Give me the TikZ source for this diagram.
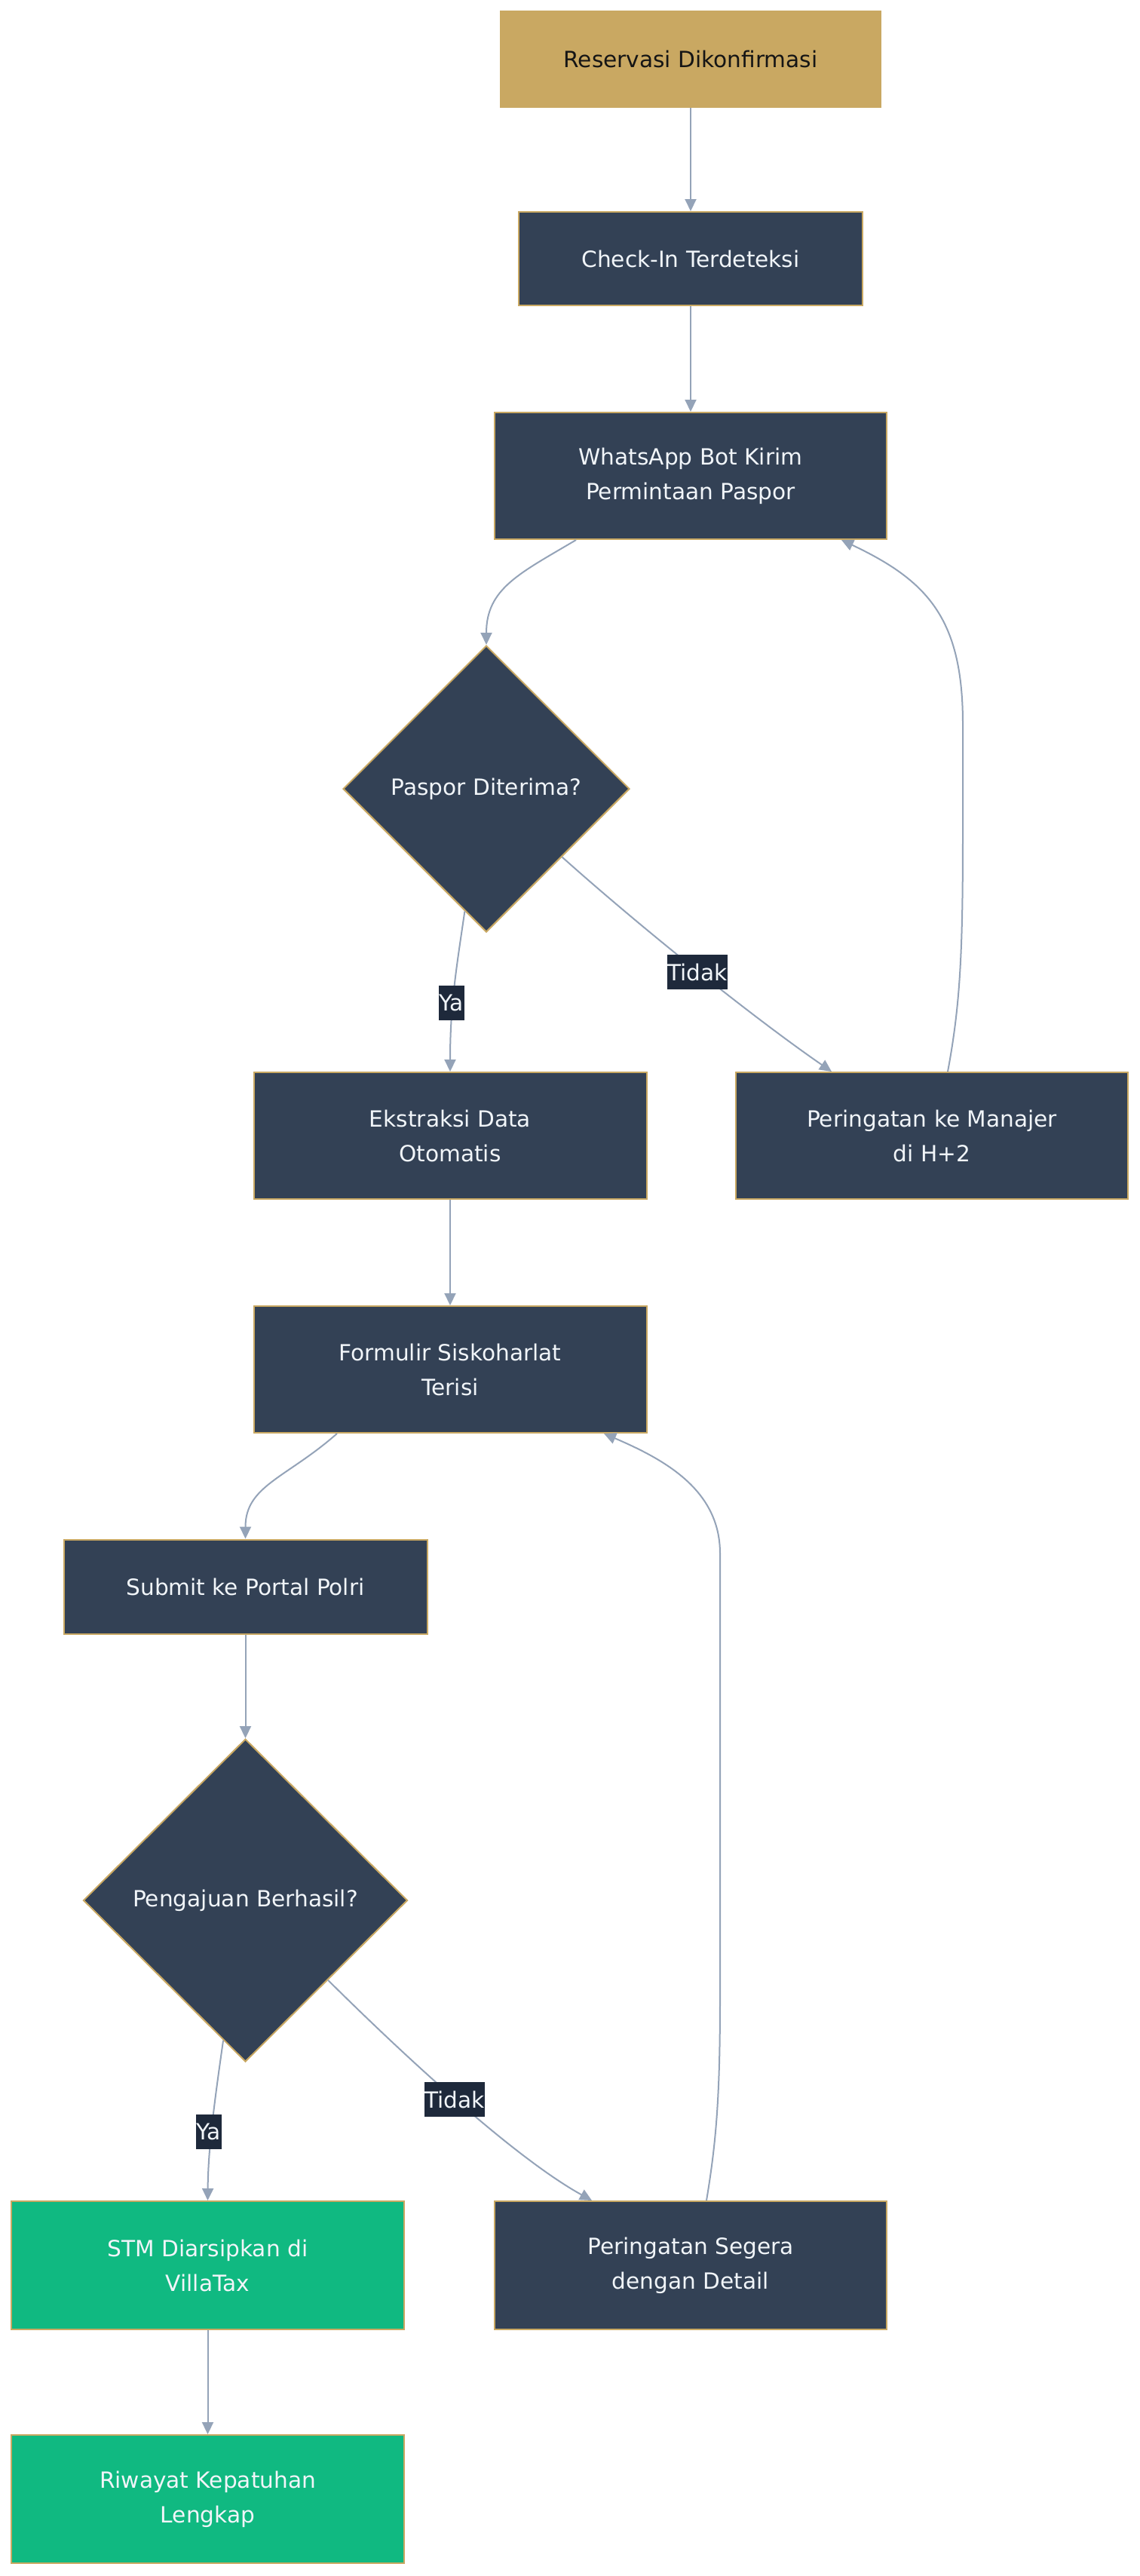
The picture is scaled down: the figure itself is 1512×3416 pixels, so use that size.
\documentclass[tikz,border=0pt]{standalone}
\usepackage{fontspec}
\setmainfont{DejaVu Sans}
\usetikzlibrary{arrows.meta,shapes.geometric}
\definecolor{gold}{HTML}{C9A862}
\definecolor{slate}{HTML}{334155}
\definecolor{emer}{HTML}{10B981}
\definecolor{lblbg}{HTML}{1E293B}
\definecolor{edgec}{HTML}{94A3B8}
\definecolor{txtw}{HTML}{F1F5F9}
\definecolor{txtd}{HTML}{151515}
\begin{document}
\begin{tikzpicture}[x=1pt,y=-1pt,
  nfont/.style={font=\fontsize{29.6}{46}\selectfont},
  box/.style={rectangle, draw=gold, line width=2pt, fill=slate, text=txtw, nfont, align=center, inner sep=0pt},
  greenbox/.style={box, fill=emer},
  goldbox/.style={box, fill=gold, text=txtd},
  dec/.style={diamond, aspect=1, draw=gold, line width=2pt, fill=slate, text=txtw, nfont, inner sep=0pt},
  lbl/.style={rectangle, fill=lblbg, text=txtw, nfont, inner xsep=0.5pt, inner ysep=0pt, minimum height=46pt},
  conn/.style={draw=edgec, line width=2pt, -{Triangle[length=16pt,width=15pt]}}
]
\fill[white] (0,0) rectangle (1512,3416);
\useasboundingbox (0,0) rectangle (1512,3416);

% nodes
\node[goldbox, minimum width=504pt, minimum height=127pt] (res) at (916,78.5) {Reservasi Dikonfirmasi};
\node[box, minimum width=456pt, minimum height=124pt] (chk) at (916,343) {Check-In Terdeteksi};
\node[box, minimum width=520pt, minimum height=168pt] (wa) at (916,631) {WhatsApp Bot Kirim\\Permintaan Paspor};
\node[dec, minimum width=380pt, minimum height=380pt] (d1) at (645,1046) {Paspor Diterima?};
\node[box, minimum width=521pt, minimum height=168pt] (ext) at (597,1506) {Ekstraksi Data\\Otomatis};
\node[box, minimum width=520pt, minimum height=168pt] (pm) at (1236,1506) {Peringatan ke Manajer\\di H+2};
\node[box, minimum width=521pt, minimum height=168pt] (frm) at (597,1816) {Formulir Siskoharlat\\Terisi};
\node[box, minimum width=482pt, minimum height=125pt] (sub) at (325.5,2104) {Submit ke Portal Polri};
\node[dec, minimum width=430pt, minimum height=428pt] (d2) at (325.5,2520) {Pengajuan Berhasil?};
\node[greenbox, minimum width=521pt, minimum height=170pt] (stm) at (275.5,3004) {STM Diarsipkan di\\VillaTax};
\node[box, minimum width=520pt, minimum height=170pt] (seg) at (916,3004) {Peringatan Segera\\dengan Detail};
\node[greenbox, minimum width=521pt, minimum height=170pt] (riw) at (275.5,3314) {Riwayat Kepatuhan\\Lengkap};

% connectors
\draw[conn] (res.south) -- (chk.north);
\draw[conn] (chk.south) -- (wa.north);
\draw[conn] ([xshift=-152pt]wa.south) .. controls (690,760) and (645,780) .. (d1.north);
\draw[conn] (d1.260) .. controls (606,1280) and (597,1330) .. (ext.north);
\draw[conn] (d1.318) .. controls (850,1230) and (1000,1350) .. ([xshift=-133pt]pm.north);
\draw[conn] ([xshift=21pt]pm.north) .. controls (1274,1330) and (1277,1260) .. (1277,1100) -- (1277,960) .. controls (1277,820) and (1230,770) .. ([xshift=200pt]wa.south);
\draw[conn] (ext.south) -- (frm.north);
\draw[conn] ([xshift=-150pt]frm.south) .. controls (380,1960) and (325.5,1970) .. (sub.north);
\draw[conn] (sub.south) -- (d2.north);
\draw[conn] (d2.261) .. controls (284,2790) and (276,2850) .. (stm.north);
\draw[conn] (d2.316) .. controls (530,2720) and (680,2860) .. ([xshift=-131pt]seg.north);
\draw[conn] ([xshift=21pt]seg.north) .. controls (950,2840) and (955,2780) .. (955,2650) -- (955,2060) .. controls (955,1975) and (880,1935) .. ([xshift=204pt]frm.south);
\draw[conn] (stm.south) -- (riw.north);

% edge labels
\node[lbl] (l1) at (599,1330) {Ya};
\node[lbl] (l2) at (925,1289) {Tidak};
\node[lbl] (l3) at (277,2827) {Ya};
\node[lbl] (l4) at (603,2784) {Tidak};
\end{tikzpicture}
\end{document}
